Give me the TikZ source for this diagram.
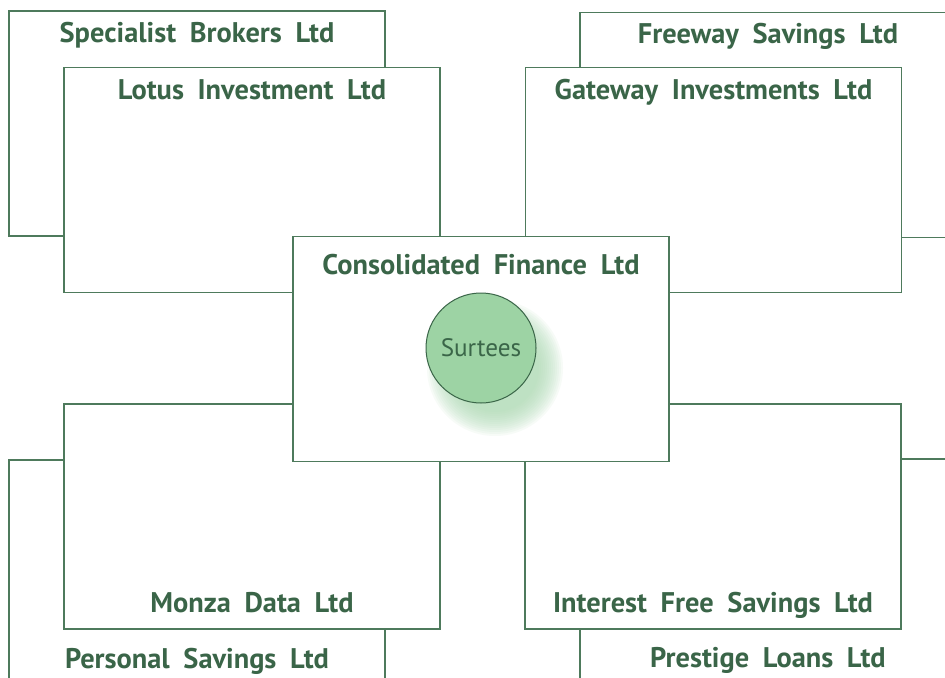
\documentclass[tikz,border=0pt]{standalone}
\usepackage{fontspec}
\setmainfont{PT Sans}[WordSpace=1.9]
\usepackage{tikz}
\usetikzlibrary{positioning}
\definecolor{firmline}{HTML}{4E7A5C}
\definecolor{firmtext}{HTML}{3A6548}
\definecolor{ownerfill}{HTML}{9DD3A4}
\definecolor{ownerglow}{HTML}{A9D9AF}
\tikzstyle{firm} = [draw=firmline, line width=0.6pt, fill=white, rectangle, inner sep=0pt, outer sep=0pt, minimum width=188pt, minimum height=112.5pt]
\tikzstyle{firmname} = [text=firmtext, inner sep=0pt, anchor=base, font=\fontsize{14.2}{17}\selectfont\bfseries]
\tikzstyle{owner} = [draw=firmtext, line width=0.5pt, fill=ownerfill, circle, minimum size=55pt, inner sep=0pt, text=firmtext, font=\fontsize{12.6}{15}\selectfont]

\begin{document}
\begin{tikzpicture}[x=0.5pt, y=-0.5pt]

	\useasboundingbox (0,0) rectangle (945,678);
	\clip (0,0) rectangle (945,678);

	\node [firm] (specialist) at (197,123.5) {};
	\node [firm] (freeway) at (768,125) {};
	\node [firm] (personal) at (197,572.5) {};
	\node [firm] (prestige) at (768,571.5) {};

	\node [firmname] (specialistname) at ([yshift=-16pt]specialist.north) {Specialist Brokers Ltd};
	\node [firmname] (freewayname) at ([yshift=-15.5pt]freeway.north) {Freeway Savings Ltd};
	\node [firmname] (personalname) at ([yshift=8.5pt]personal.south) {Personal Savings Ltd};
	\node [firmname] (prestigename) at ([yshift=8.5pt]prestige.south) {Prestige Loans Ltd};

	\node [firm] (lotus) at (252,180) {};
	\node [firm] (gateway) at (713.5,180) {};
	\node [firm] (monza) at (252,516.5) {};
	\node [firm] (interest) at (713,516.5) {};

	\node [firmname] (lotusname) at ([yshift=-16pt]lotus.north) {Lotus Investment Ltd};
	\node [firmname] (gatewayname) at ([yshift=-16pt]gateway.north) {Gateway Investments Ltd};
	\node [firmname] (monzaname) at ([yshift=8.5pt]monza.south) {Monza Data Ltd};
	\node [firmname] (interestname) at ([yshift=8.5pt]interest.south) {Interest Free Savings Ltd};

	\node [firm] (consolidated) at (481,349) {};
	\node [firmname] (consolidatedname) at ([yshift=-19pt]consolidated.north) {Consolidated Finance Ltd};

	\foreach \r in {34,33,...,22}
		\fill [ownerglow, opacity=0.09] (495,368) circle (\r pt);
	\node [owner] (surtees) at (481,348) {Surtees};

\end{tikzpicture}
\end{document}
